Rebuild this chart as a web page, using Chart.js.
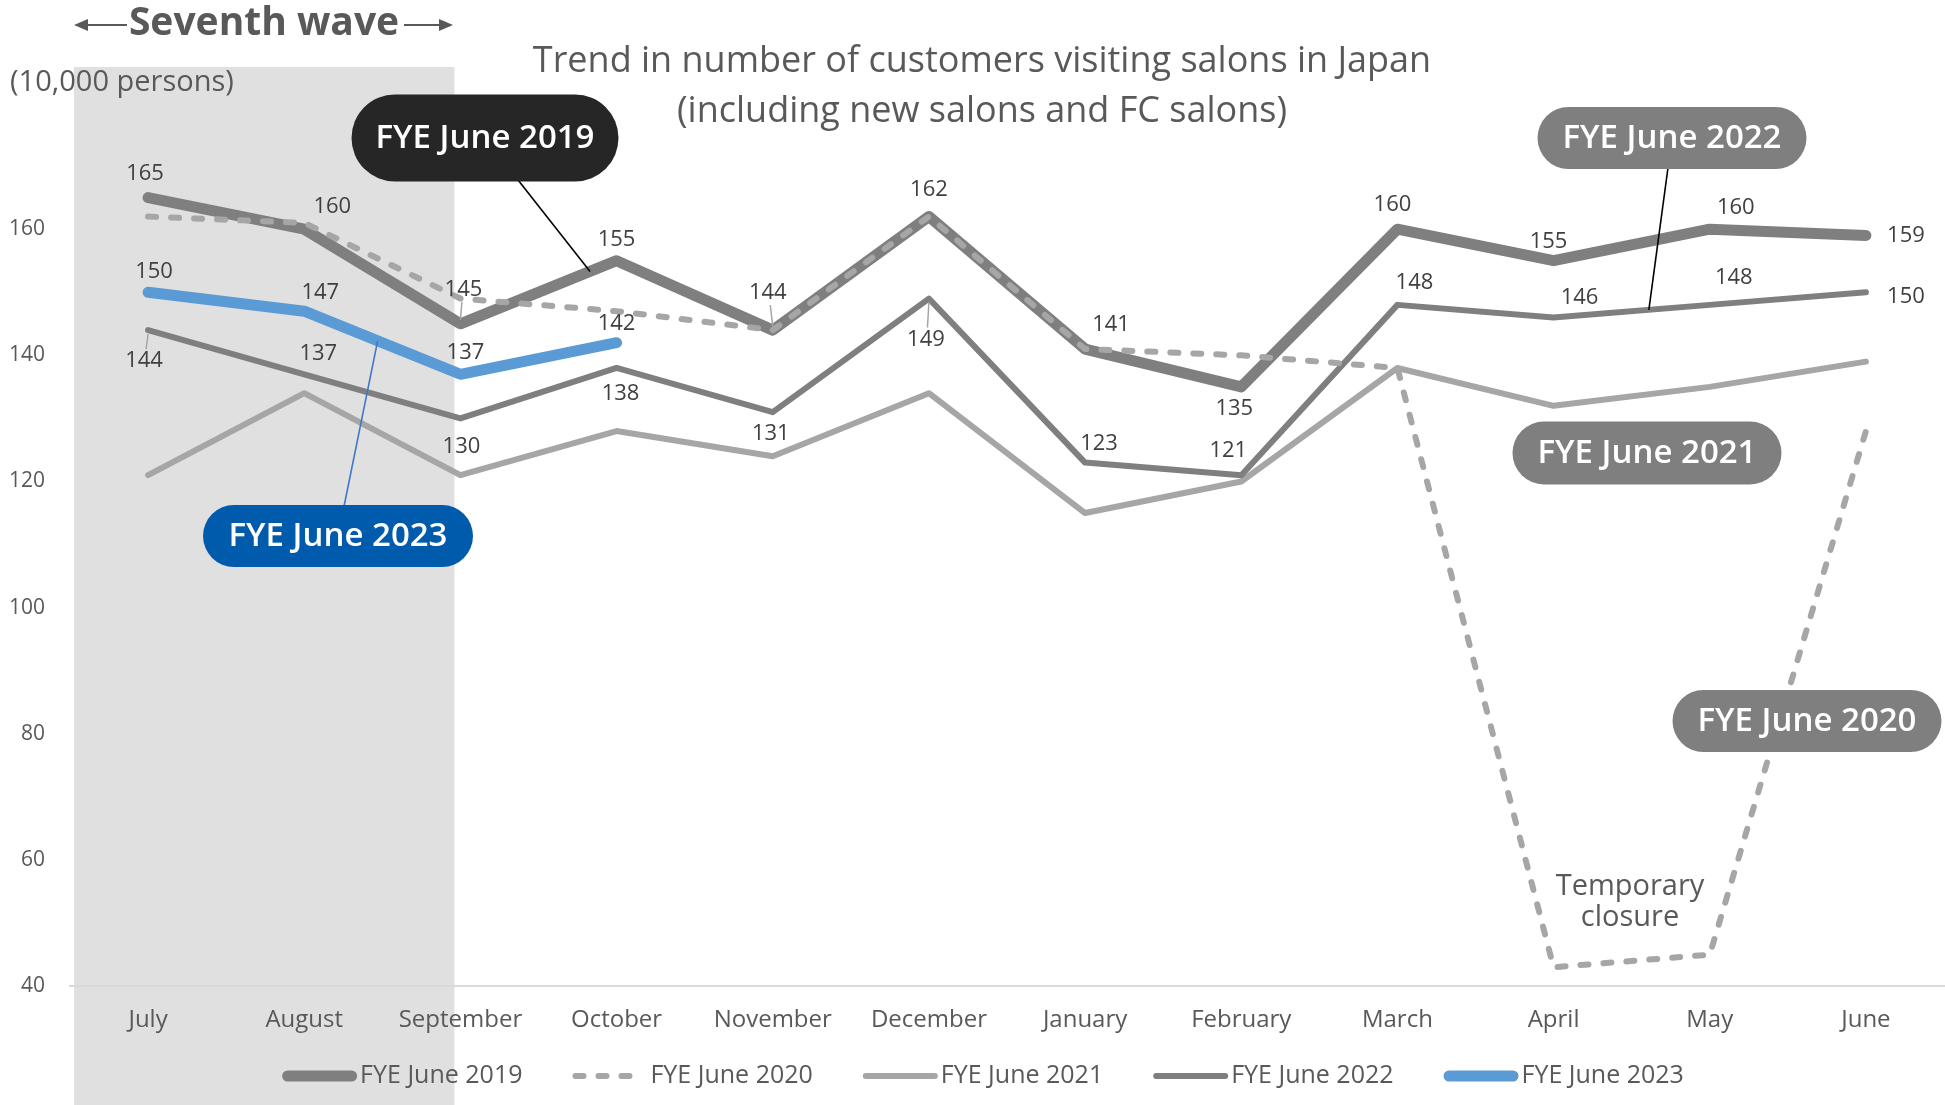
<!DOCTYPE html>
<html>
<head>
<meta charset="utf-8">
<title>Customers visiting salons in Japan</title>
<script src="https://cdn.jsdelivr.net/npm/chart.js@4.4.0/dist/chart.umd.min.js"></script>
<style>
  html, body { margin: 0; padding: 0; background: #fff; }
  #wrap { width: 1945px; height: 1105px; }
</style>
</head>
<body>
<div id="wrap"><canvas id="myChart" width="1945" height="1105"></canvas></div>
<script>
const months = ['July', 'August', 'September', 'October', 'November', 'December',
                'January', 'February', 'March', 'April', 'May', 'June'];
const fye2019 = [165, 160, 145, 155, 144, 162, 141, 135, 160, 155, 160, 159];
const fye2020 = [162, 161, 149, 147, 144, 162, 141, 140, 138, 43, 45, 128];
const fye2021 = [121, 134, 121, 128, 124, 134, 115, 120, 138, 132, 135, 139];
const fye2022 = [144, 137, 130, 138, 131, 149, 123, 121, 148, 146, 148, 150];
const fye2023 = [150, 147, 137, 142];
const yTicks = [40, 60, 80, 100, 120, 140, 160];

const FONT = '"Open Sans", Lato, sans-serif';
const TEXT = '#595959';

// offset [dx, dy] of each value label from its point
const labelOffsets = {
  0: [[-3,-24],[28,-22],[3,-34],[0,-21],[-5,-37],[0,-27],[26,-24],[-7,22],[-5,-24],[-5,-19],[26,-21],[40,0]],
  3: [[-4,31],[14,-21],[1,28],[4,26],[-2,22],[-3,41],[14,-19],[-13,-24],[17,-22],[26,-20],[24,-27],[40,4]],
  4: [[6,-21],[16,-18],[5,-22],[0,-19]]
};

// series name tags; lead = segment of a series the pointer line goes to
const tags = [
  {text: 'FYE June 2019', fill: '#262626', x: 485, y: 138, w: 267, h: 87, lead: {ds: 0, i: 2, t: 0.83, color: '#000'}},
  {text: 'FYE June 2022', fill: '#7f7f7f', x: 1672, y: 138, w: 269, h: 62, lead: {ds: 3, i: 9, t: 0.61, color: '#000'}},
  {text: 'FYE June 2021', fill: '#7f7f7f', x: 1647, y: 453, w: 269, h: 63},
  {text: 'FYE June 2020', fill: '#7f7f7f', x: 1807, y: 721, w: 269, h: 62},
  {text: 'FYE June 2023', fill: '#005bac', x: 338, y: 536, w: 270, h: 62, lead: {ds: 4, i: 1, t: 0.47, color: '#3f78c8'}}
];

function pill(ctx, cx, cy, w, h) {
  const r = h / 2, x = cx - w / 2, y = cy - h / 2;
  ctx.beginPath();
  ctx.moveTo(x + r, y);
  ctx.lineTo(x + w - r, y);
  ctx.arc(x + w - r, cy, r, -Math.PI / 2, Math.PI / 2);
  ctx.lineTo(x + r, y + h);
  ctx.arc(x + r, cy, r, Math.PI / 2, Math.PI * 1.5);
  ctx.closePath();
}

function arrow(ctx, x1, x2, y) {
  const dir = Math.sign(x2 - x1);
  ctx.beginPath();
  ctx.moveTo(x1, y);
  ctx.lineTo(x2 - dir * 8, y);
  ctx.stroke();
  ctx.beginPath();
  ctx.moveTo(x2, y);
  ctx.lineTo(x2 - dir * 14, y - 6);
  ctx.lineTo(x2 - dir * 14, y + 6);
  ctx.closePath();
  ctx.fill();
}

const backdrop = {
  id: 'backdrop',
  beforeDraw(chart) {
    const {ctx, scales: {x}} = chart;
    const left = x.getPixelForValue(0) - 74;
    const right = x.getPixelForValue(2) - 6;
    ctx.save();
    ctx.fillStyle = '#e0e0e0';
    ctx.fillRect(left, 67, right - left, chart.height - 67);
    ctx.restore();
  }
};

const valueLabels = {
  id: 'valueLabels',
  afterDatasetsDraw(chart) {
    const ctx = chart.ctx;
    ctx.save();
    ctx.font = '22px ' + FONT;
    ctx.fillStyle = '#404040';
    ctx.textAlign = 'center';
    ctx.textBaseline = 'middle';
    Object.keys(labelOffsets).forEach(k => {
      const ds = chart.data.datasets[k];
      const meta = chart.getDatasetMeta(k);
      meta.data.forEach((pt, i) => {
        const [dx, dy] = labelOffsets[k][i];
        if (Math.abs(dy) > 30) {
          ctx.strokeStyle = '#a6a6a6';
          ctx.lineWidth = 1.5;
          ctx.beginPath();
          ctx.moveTo(pt.x + dx * 0.5, pt.y + dy + Math.sign(dy) * -12);
          ctx.lineTo(pt.x, pt.y + Math.sign(dy) * 4);
          ctx.stroke();
        }
        ctx.fillText(ds.data[i], pt.x + dx, pt.y + dy);
      });
    });
    ctx.restore();
  }
};

const annotations = {
  id: 'annotations',
  afterDraw(chart) {
    const ctx = chart.ctx;
    ctx.save();

    // series tags and their pointer lines
    tags.forEach(t => {
      if (t.lead) {
        const pts = chart.getDatasetMeta(t.lead.ds).data;
        const a = pts[t.lead.i], b = pts[t.lead.i + 1];
        const tx = a.x + (b.x - a.x) * t.lead.t;
        const ty = a.y + (b.y - a.y) * t.lead.t;
        ctx.strokeStyle = t.lead.color;
        ctx.lineWidth = 1.6;
        ctx.beginPath();
        ctx.moveTo(t.x, t.y);
        ctx.lineTo(tx, ty);
        ctx.stroke();
      }
    });
    tags.forEach(t => {
      pill(ctx, t.x, t.y, t.w, t.h);
      ctx.fillStyle = t.fill;
      ctx.fill();
      ctx.fillStyle = '#fff';
      ctx.font = '600 33px ' + FONT;
      ctx.textAlign = 'center';
      ctx.textBaseline = 'middle';
      ctx.fillText(t.text, t.x, t.y + 1);
    });

    // titles
    ctx.fillStyle = TEXT;
    ctx.textAlign = 'center';
    ctx.textBaseline = 'middle';
    ctx.font = '36px ' + FONT;
    ctx.fillText('Trend in number of customers visiting salons in Japan', 982, 62);
    ctx.fillText('(including new salons and FC salons)', 982, 112);

    ctx.font = 'bold 39px ' + FONT;
    ctx.fillText('Seventh wave', 264, 24);
    ctx.strokeStyle = TEXT;
    ctx.lineWidth = 2;
    arrow(ctx, 127, 74, 25);
    arrow(ctx, 404, 453, 25);

    ctx.textAlign = 'left';
    ctx.font = '29px ' + FONT;
    ctx.fillText('(10,000 persons)', 10, 83);

    ctx.textAlign = 'center';
    ctx.font = '29px ' + FONT;
    ctx.fillText('Temporary', 1630, 887);
    ctx.fillText('closure', 1630, 918);

    // legend
    const items = chart.data.datasets;
    ctx.font = '25px ' + FONT;
    const sample = 75, gap = 3, spacing = 50;
    let total = 0;
    items.forEach((d, i) => {
      total += sample + gap + ctx.measureText(d.label).width + (i < items.length - 1 ? spacing : 0);
    });
    let lx = 983 - total / 2;
    const ly = 1076;
    items.forEach(d => {
      ctx.strokeStyle = d.borderColor;
      ctx.lineWidth = d.borderWidth;
      ctx.lineCap = 'round';
      ctx.setLineDash(d.borderDash || []);
      ctx.beginPath();
      ctx.moveTo(lx + d.borderWidth / 2, ly);
      ctx.lineTo(lx + sample - d.borderWidth / 2, ly);
      ctx.stroke();
      ctx.setLineDash([]);
      ctx.fillStyle = TEXT;
      ctx.textAlign = 'left';
      ctx.fillText(d.label, lx + sample + gap, ly);
      lx += sample + gap + ctx.measureText(d.label).width + spacing;
    });
    ctx.restore();
  }
};

const lineStyle = {
  pointRadius: 0,
  pointHoverRadius: 0,
  borderCapStyle: 'round',
  borderJoinStyle: 'round',
  tension: 0,
  fill: false
};

const ctx = document.getElementById('myChart').getContext('2d');
const myChart = new Chart(ctx, {
  type: 'line',
  data: {
    labels: months,
    datasets: [
      Object.assign({label: 'FYE June 2019', data: fye2019, borderColor: '#7f7f7f', borderWidth: 11, order: 2}, lineStyle),
      Object.assign({label: 'FYE June 2020', data: fye2020, borderColor: '#a6a6a6', borderWidth: 6, borderDash: [8, 15], order: 1}, lineStyle),
      Object.assign({label: 'FYE June 2021', data: fye2021, borderColor: '#a6a6a6', borderWidth: 6, order: 4}, lineStyle),
      Object.assign({label: 'FYE June 2022', data: fye2022, borderColor: '#7f7f7f', borderWidth: 6, order: 3}, lineStyle),
      Object.assign({label: 'FYE June 2023', data: fye2023, borderColor: '#5b9bd5', borderWidth: 11, order: 0}, lineStyle)
    ]
  },
  options: {
    responsive: false,
    animation: false,
    layout: {padding: {top: 103, left: 10, right: 1, bottom: 50}},
    plugins: {
      legend: {display: false},
      tooltip: {enabled: false},
      title: {display: false}
    },
    scales: {
      x: {
        offset: true,
        grid: {display: false, drawTicks: false, offset: true},
        border: {display: true, color: '#d9d9d9', width: 2},
        ticks: {color: TEXT, font: {family: FONT, size: 24}, padding: 20, maxRotation: 0, autoSkip: false}
      },
      y: {
        min: 40,
        max: 180,
        afterFit(scale) { scale.width = 60; },
        afterBuildTicks(scale) { scale.ticks = yTicks.map(v => ({value: v})); },
        grid: {display: false, drawTicks: false},
        border: {display: false},
        ticks: {color: TEXT, font: {family: FONT, size: 21}, padding: 25}
      }
    }
  },
  plugins: [backdrop, valueLabels, annotations]
});
</script>
</body>
</html>
